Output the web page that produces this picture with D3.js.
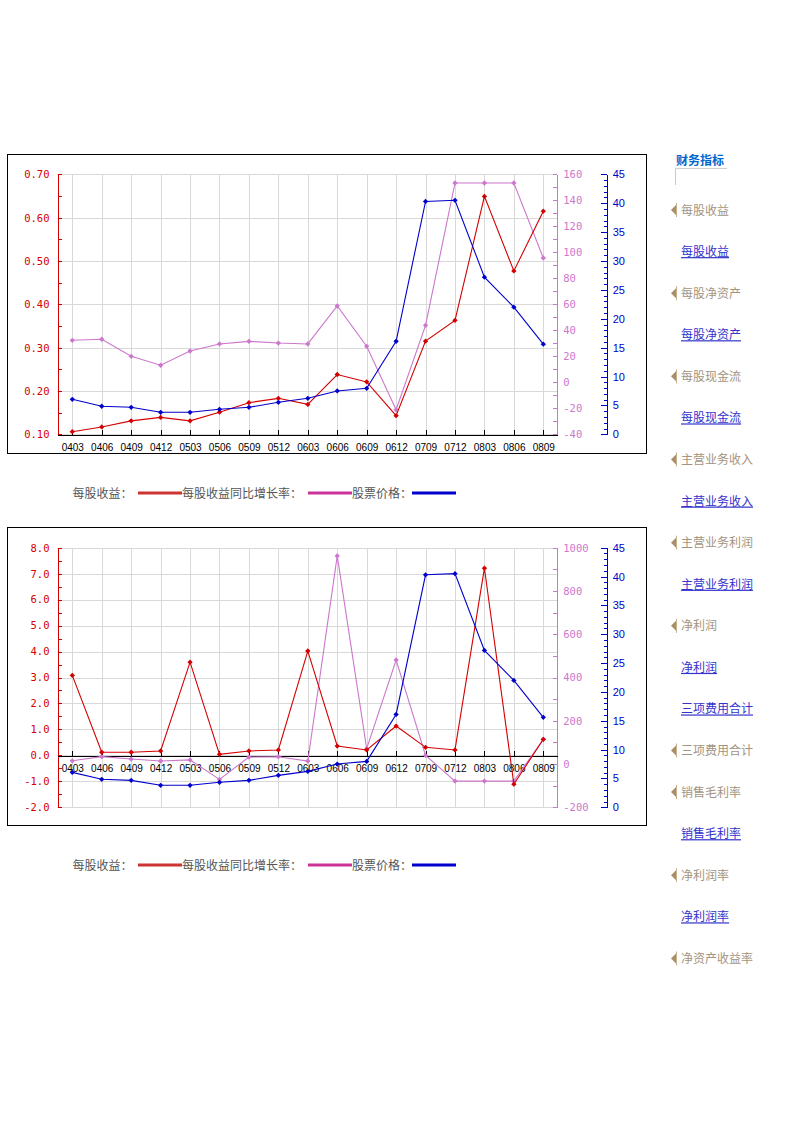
<!DOCTYPE html>
<html><head><meta charset="utf-8">
<script src="https://cdn.jsdelivr.net/npm/d3@7/dist/d3.min.js"></script>
<style>
html,body{margin:0;padding:0;background:#fff;}
svg{display:block;}
</style></head>
<body>
<svg id="c" width="793" height="1122"></svg>
<script>
// ---------- data ----------
const categories = ["0403","0406","0409","0412","0503","0506","0509","0512","0603","0606","0609","0612","0709","0712","0803","0806","0809"];
const eps1    = [0.106,0.117,0.131,0.139,0.131,0.151,0.173,0.183,0.169,0.238,0.221,0.143,0.315,0.363,0.649,0.477,0.615];
const growth1 = [32.3,33.1,20.0,13.1,24.1,29.5,31.5,30.2,29.5,58.7,27.7,-21.1,43.8,153.3,153.3,153.3,95.6];
const price   = [6.06,4.85,4.67,3.81,3.81,4.33,4.67,5.54,6.23,7.5,7.96,16.1,40.3,40.5,27.2,22.0,15.6];
const eps2    = [3.08,0.12,0.12,0.17,3.59,0.04,0.17,0.21,4.02,0.36,0.21,1.13,0.31,0.21,7.21,-1.11,0.62];
const growth2 = [15,34,23,14,19,-71,32,34,14,962,71,481,40,-79,-79,-79,114];

const redTicks1 = [0.1,0.2,0.3,0.4,0.5,0.6,0.7];
const purpleTicks1 = [-40,-20,0,20,40,60,80,100,120,140,160];
const redTicks2 = [-2,-1,0,1,2,3,4,5,6,7,8];
const purpleTicks2 = [-200,0,200,400,600,800,1000];
const blueTicks = [0,5,10,15,20,25,30,35,40,45];

const legendLabels = ["每股收益：","每股收益同比增长率：","股票价格："];
const sideTitle = "财务指标";
const sideItems = ["每股收益","每股收益","每股净资产","每股净资产","每股现金流","每股现金流","主营业务收入","主营业务收入","主营业务利润","主营业务利润","净利润","净利润","三项费用合计","三项费用合计","销售毛利率","销售毛利率","净利润率","净利润率","净资产收益率"];
const sideIsLink = [0,1,0,1,0,1,0,1,0,1,0,1,1,0,0,1,0,1,0];

// ---------- styles ----------
const RED="#d40000", PURPLE="#cc77cc", BLUE="#0000cc", GRID="#d9d9d9";
const MONO="'DejaVu Sans Mono', 'Liberation Mono', monospace";
const SANS="'Liberation Sans', Arial, sans-serif";
const CJK="'Noto Sans CJK SC', sans-serif";

const svg = d3.select("#c");
const markerType = d3.symbolDiamond2 || d3.symbolCross;

function drawChart(o){
  const g = svg.append("g");
  g.append("rect").attr("x",o.box[0]+0.5).attr("y",o.box[1]+0.5).attr("width",o.box[2]).attr("height",o.box[3])
   .attr("fill","#fff").attr("stroke","#000").attr("stroke-width",1);

  const X0=57, X1=557.3, XB=606.7, YT=o.yTop, YB=o.yBot;
  const x = d3.scaleLinear().domain([0,categories.length-1]).range([72.3,543.3]);
  const yR = d3.scaleLinear().domain(d3.extent(o.redTicks)).range([YB,YT]);
  const yP = d3.scaleLinear().domain(d3.extent(o.purpleTicks)).range([YB,YT]);
  const yB = d3.scaleLinear().domain(d3.extent(blueTicks)).range([YB,YT]);

  // grid
  const grid = g.append("g").attr("stroke",GRID).attr("stroke-width",1).attr("shape-rendering","crispEdges");
  grid.selectAll("line.h").data(o.redTicks).join("line").attr("class","h")
    .attr("x1",X0).attr("x2",X1).attr("y1",d=>Math.round(yR(d))+0.5).attr("y2",d=>Math.round(yR(d))+0.5);
  grid.selectAll("line.v").data(categories).join("line").attr("class","v")
    .attr("x1",(d,i)=>Math.round(x(i))+0.5).attr("x2",(d,i)=>Math.round(x(i))+0.5).attr("y1",YT).attr("y2",YB);

  // red axis (left)
  const redMinor = d3.range(o.redTicks[0], o.redTicks[o.redTicks.length-1]+o.redStep/4, o.redStep/2);
  const ra = g.append("g").attr("transform",`translate(${X0+0.5},0)`);
  ra.call(d3.axisLeft(yR).tickValues(redMinor).tickSize(-4).tickSizeOuter(0).tickFormat(""));
  ra.append("g").call(d3.axisLeft(yR).tickValues(o.redTicks).tickSize(0).tickPadding(8).tickFormat(d3.format(o.redFmt)));
  ra.selectAll("path,line").attr("stroke",RED).attr("shape-rendering","crispEdges");
  ra.selectAll("text").attr("fill",RED).attr("font-family",MONO).attr("font-size",10.5).text(function(){return this.textContent.replace("−","-");});

  // purple axis
  const pMinor = d3.range(o.purpleTicks[0], o.purpleTicks[o.purpleTicks.length-1]+1, o.purpleMinor);
  const pa = g.append("g").attr("transform",`translate(${X1},0)`);
  pa.call(d3.axisRight(yP).tickValues(pMinor).tickSize(-4).tickSizeOuter(0).tickFormat(""));
  pa.append("g").call(d3.axisRight(yP).tickValues(o.purpleTicks).tickSize(0).tickPadding(6).tickFormat(d3.format("d")));
  pa.selectAll("path,line").attr("stroke",PURPLE).attr("shape-rendering","crispEdges");
  pa.selectAll("text").attr("fill",PURPLE).attr("font-family",MONO).attr("font-size",10.5).text(function(){return this.textContent.replace("−","-");});

  // blue axis
  const ba = g.append("g").attr("transform",`translate(${XB},0)`);
  ba.call(d3.axisRight(yB).tickValues(d3.range(0,46,1)).tickSize(-3).tickSizeOuter(0).tickFormat(""));
  ba.append("g").call(d3.axisRight(yB).tickValues(blueTicks).tickSize(-6).tickSizeOuter(0).tickPadding(6).tickFormat(d3.format("d")));
  ba.selectAll("path,line").attr("stroke",BLUE).attr("shape-rendering","crispEdges");
  ba.selectAll("text").attr("fill",BLUE).attr("font-family",SANS).attr("font-size",11);

  // x axis (black)
  const yx = o.xAtZero ? yR(0) : YB;
  const xa = g.append("g").attr("transform",`translate(0,${Math.round(yx)+0.5})`);
  const stepPx = (543.3-72.3)/16;
  const xs = d3.scaleLinear().domain([-(72.3-X0)/stepPx, 16+(X1-543.3)/stepPx]).range([X0,X1]);
  xa.call(d3.axisBottom(xs).tickValues(d3.range(categories.length)).tickSize(-5).tickSizeOuter(0).tickPadding(9).tickFormat(i=>categories[i]));
  xa.selectAll("path,line").attr("stroke","#000").attr("shape-rendering","crispEdges");
  xa.selectAll("text").attr("fill","#000").attr("font-family",SANS).attr("font-size",10);

  // series
  const series = [
    {vals:o.growth, y:yP, c:PURPLE},
    {vals:o.eps, y:yR, c:RED},
    {vals:price, y:yB, c:BLUE}
  ];
  series.forEach(s=>{
    const line = d3.line().x((d,i)=>x(i)).y(d=>s.y(d));
    g.append("path").attr("d",line(s.vals)).attr("fill","none").attr("stroke",s.c).attr("stroke-width",1.1);
    g.selectAll(null).data(s.vals).join("path")
      .attr("d",d3.symbol(markerType,18))
      .attr("transform",(d,i)=>`translate(${x(i)},${s.y(d)})`)
      .attr("fill",s.c);
  });

  // legend
  const lg = svg.append("g").attr("font-family",CJK).attr("font-size",12).attr("fill","#555");
  const ly = o.legendY;
  const lx = [[72.5,138,182],[182,308,352],[352,412,456]];
  const lc = ["#cc3333","#cc3399","#0000cc"];
  legendLabels.forEach((t,i)=>{
    lg.append("text").attr("x",lx[i][0]).attr("y",ly+4.5).text(t);
    lg.append("line").attr("x1",lx[i][1]).attr("x2",lx[i][2]).attr("y1",ly).attr("y2",ly).attr("stroke",lc[i]).attr("stroke-width",3);
  });
}

drawChart({box:[7,154,639,299], yTop:174.3, yBot:434.3, redTicks:redTicks1, redStep:0.1, redFmt:".2f",
  purpleTicks:purpleTicks1, purpleMinor:10, eps:eps1, growth:growth1, xAtZero:false, legendY:493});
drawChart({box:[7,527,639,298], yTop:547.7, yBot:807.3, redTicks:redTicks2, redStep:1, redFmt:".1f",
  purpleTicks:purpleTicks2, purpleMinor:100, eps:eps2, growth:growth2, xAtZero:true, legendY:865});

// ---------- sidebar ----------
const sb = svg.append("g").attr("font-family",CJK).attr("font-size",12);
sb.append("text").attr("x",676).attr("y",164.5).attr("fill","#0066cc").attr("font-weight","bold").text(sideTitle);
sb.append("line").attr("x1",675.5).attr("x2",727).attr("y1",168.5).attr("y2",168.5).attr("stroke","#d0d0d0");
sb.append("line").attr("x1",675.5).attr("x2",675.5).attr("y1",168.5).attr("y2",185).attr("stroke","#c8c8c8");
sideItems.forEach((t,i)=>{
  const cy = 210 + i*41.58;
  if(sideIsLink[i]){
    sb.append("text").attr("x",681).attr("y",cy+4.5).attr("fill","#3333cc").attr("text-decoration","underline").text(t);
  } else {
    sb.append("path").attr("d",`M671,${cy} L676,${cy-5} L676,${cy+5} Z`).attr("fill","#a88f6a");
    sb.append("line").attr("x1",676.5).attr("x2",676.5).attr("y1",cy-7).attr("y2",cy+7).attr("stroke","#c8b08a");
    sb.append("text").attr("x",681).attr("y",cy+4.5).attr("fill","#a39480").text(t);
  }
});
</script>
</body></html>
